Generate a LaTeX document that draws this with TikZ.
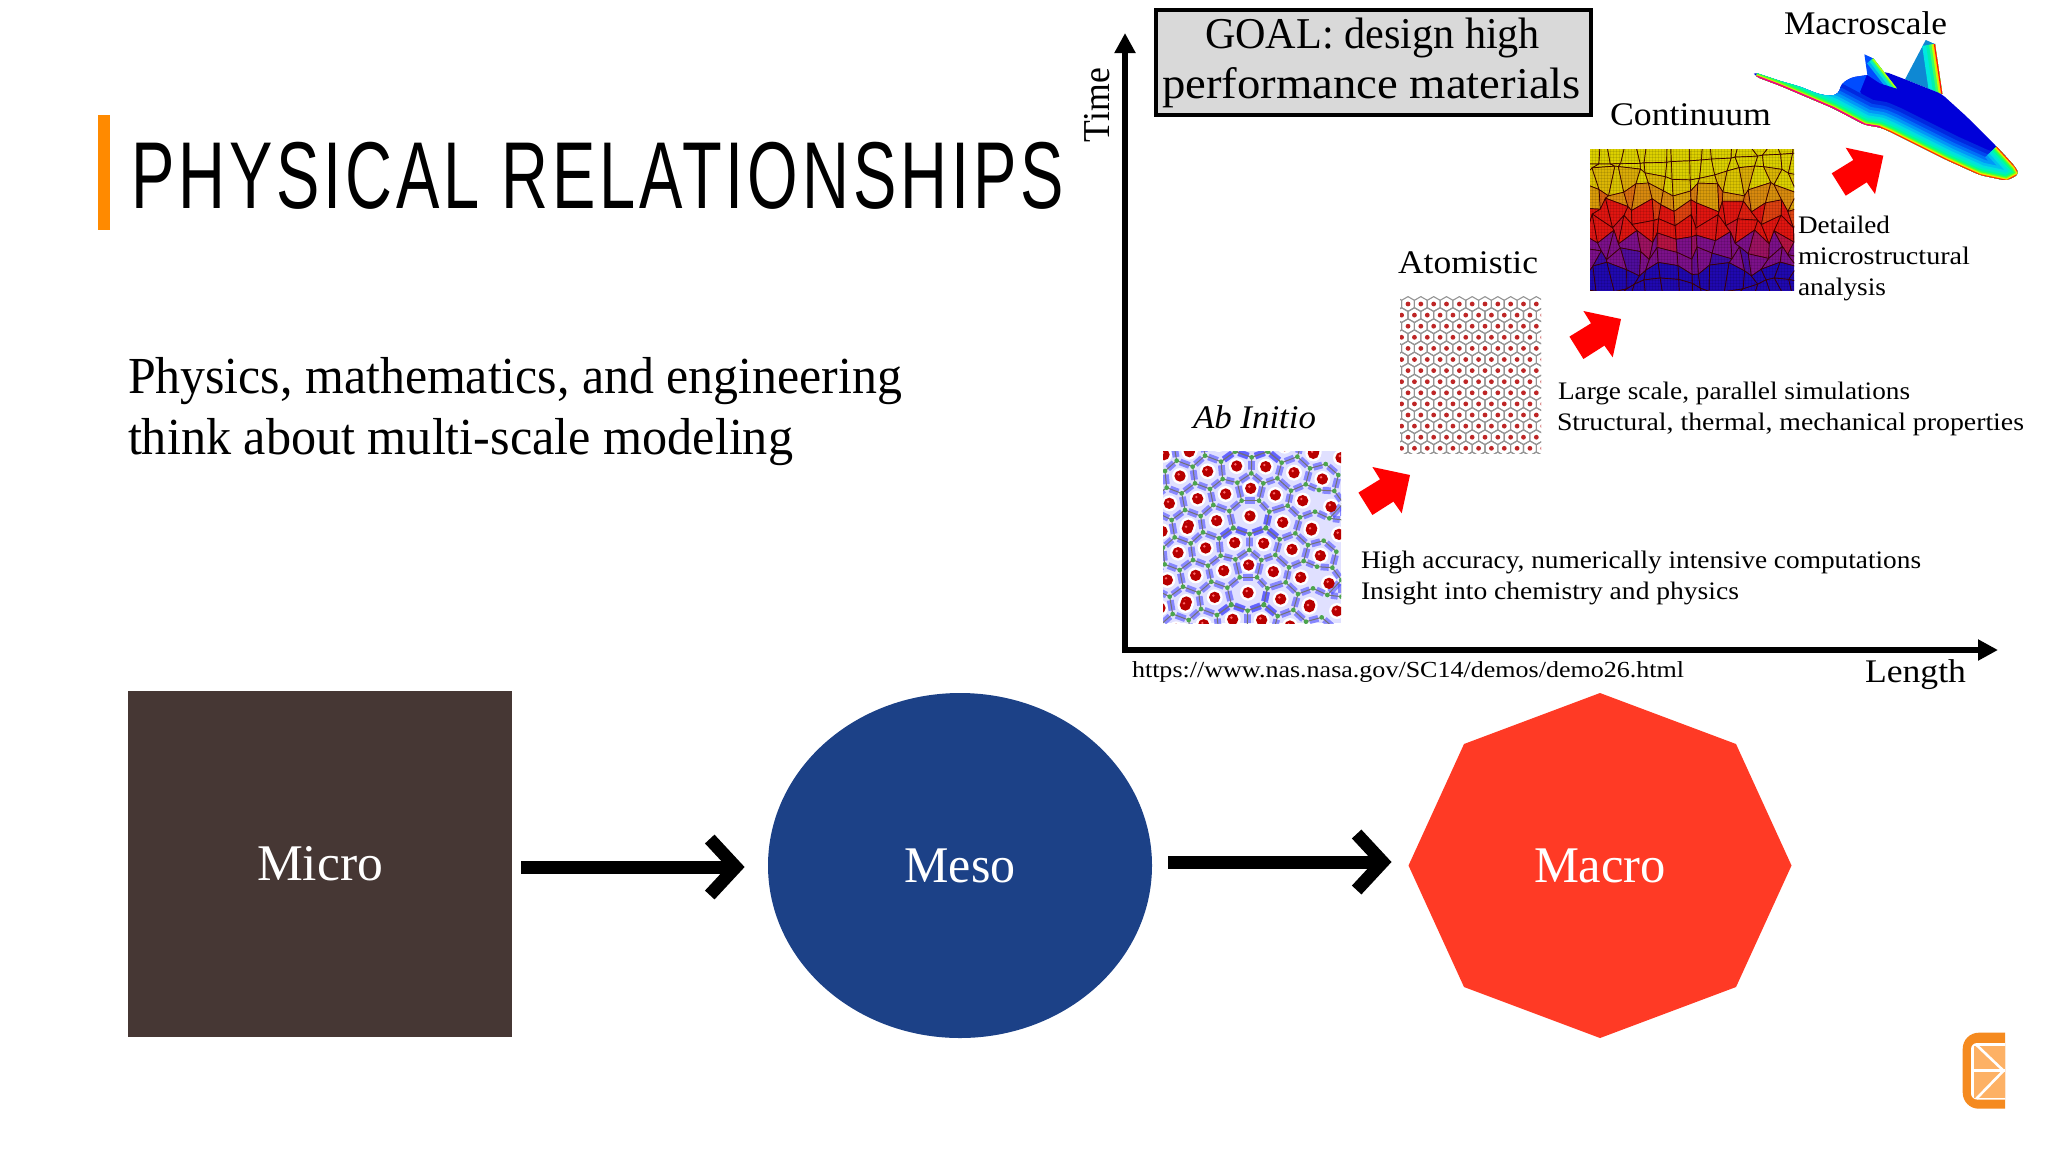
\documentclass[tikz,border=0pt]{standalone}
\usepackage{fontspec}
\usepackage{graphicx}
\setmainfont{Liberation Serif}
\newfontfamily\titlefont[LetterSpace=6]{Liberation Sans}
\usetikzlibrary{arrows.meta,calc,shapes.geometric}
\definecolor{barorange}{HTML}{FF8A00}
\definecolor{goalgray}{HTML}{D9D9D9}
\definecolor{microbrown}{HTML}{463734}
\definecolor{mesoblue}{HTML}{1C4187}
\definecolor{macrored}{HTML}{FF3A25}
\definecolor{logoorange}{HTML}{F58A1F}
\definecolor{logolight}{HTML}{FDB165}
\definecolor{cyel}{HTML}{DCD000}
\definecolor{cora}{HTML}{D88010}
\definecolor{cred}{HTML}{E01510}
\definecolor{cpur}{HTML}{7C108A}
\definecolor{cblu}{HTML}{2008B0}
\newcommand{\fitw}[2]{\resizebox{#1pt}{\height}{#2}}
\tikzset{
  lbl/.style={anchor=base west,inner sep=0pt,outer sep=0pt,text=black},
  fbig/.style={font=\fontsize{22}{22}\selectfont},
  fmid/.style={font=\fontsize{16.5}{16.5}\selectfont},
  fsmall/.style={font=\fontsize{12.6}{12.6}\selectfont},
  fshape/.style={font=\fontsize{25.7}{25.7}\selectfont,text=white,inner sep=0pt},
  axisline/.style={line width=3.2pt,-{Triangle[length=10pt,width=10pt]}},
  bigarrow/.style={line width=6.5pt,-{Straight Barb[length=13pt,width=28pt,line width=6.5pt]}},
  redarrow/.style={fill=red},
}
\newcommand{\redarrowat}[2]{\fill[redarrow,shift={(#1,#2)}] (-37.6,-8) -- (0,0) -- (-8.3,38.3) -- (-16.6,26.6) -- (-37.6,40) -- (-51.6,17.6) -- (-30,4.3) -- cycle;}
\newcommand{\greenlist}{50/62,135/47,98/80,183/65,225/35,275/52,323/35,365/68,412/50,497/72,535/105,15/93,20/143,65/160,105/130,150/147,188/117,232/128,274/100,310/130,352/115,393/152,437/133,450/85,477/150,523/153,245/182,297/182,75/210,122/228,160/195,208/213,328/215,383/197,420/232,465/215,508/235,35/240,220/263,318/263,-5/220,-15/170,550/190,550/240}
\newcommand{\bondlist}{50/62,135/47,98/80,183/65,225/35,275/52,323/35,365/68,412/50,497/72,535/105,15/93,20/143,65/160,105/130,150/147,188/117,232/128,274/100,310/130,352/115,393/152,437/133,450/85,477/150,523/153,245/182,297/182,75/210,122/228,160/195,208/213,328/215,383/197,420/232,465/215,508/235,35/240,220/263,318/263,-5/220,-15/170,550/190,550/240,44/292,129/277,92/310,177/295,269/282,317/265,359/298,406/280,491/302,444/315,9/323}
\newcommand{\redlist}{12/44,88/35,460/40,543/53,60/108,143/94,230/78,317/80,402/98,487/117,272/145,197/162,113/176,28/190,346/165,428/182,513/200,170/242,270/228,368/247,455/265,85/256}
\newcommand{\abbonds}{%
  \foreach \ax/\ay [count=\i] in \greenlist {
    \foreach \bx/\by [count=\j] in \bondlist {
      \ifnum\j>\i
        \pgfmathparse{veclen(\ax-\bx,\ay-\by)}
        \ifdim\pgfmathresult pt<62pt
          \draw[line width=3.4pt,color=blue!70!white,opacity=.6,shorten <=1.8pt,shorten >=1.8pt] (\ax,\ay) -- (\bx,\by);
          \draw[line width=.5pt,color=black!55] (\ax,\ay) -- (\bx,\by);
        \fi
      \fi
    }
  }
}
\newcommand{\abhalos}{%
  \foreach \ax/\ay in \redlist {
    \fill[white] (\ax,\ay) circle[radius=24];
  }
}
\newcommand{\abatoms}{%
  \foreach \ax/\ay in \greenlist {
    \fill[color=green!50!black!70!white] (\ax,\ay) circle[radius=7];
  }
  \foreach \ax/\ay in \redlist {
    \fill[color=red!72!black] (\ax,\ay) circle[radius=17];
    \fill[color=red!60!white] (\ax-4,\ay-5) circle[radius=4];
  }
}
\begin{document}
\begin{tikzpicture}[x=0.5pt,y=-0.5pt,
  declare function={jx(\i,\j)=5*sin(\i*137+\j*229+\i*\j*17); jy(\i,\j)=7*sin(\i*311+\j*97+\i*\j*41);clampp(\v)=100*max(0,min(1,\v));}]
\useasboundingbox (0,0) rectangle (2048,1152);
\fill[white] (0,0) rectangle (2048,1152);

% title block
\fill[barorange] (98,115) rectangle (110,230);
\node[lbl,font=\titlefont\fontsize{47.5}{47.5}\selectfont] (title) at (131,208) {\fitw{466.5}{PHYSICAL RELATIONSHIPS}};
\node[lbl,font=\fontsize{26}{26}\selectfont] (body1) at (128,393) {\fitw{387}{Physics, mathematics, and engineering}};
\node[lbl,font=\fontsize{26}{26}\selectfont] (body2) at (128,454) {\fitw{332.5}{think about multi-scale modeling}};

% axes
\coordinate (origin) at (1125,650);
\coordinate (timeend) at (1125,33);
\coordinate (lengthend) at (1998,650);
\draw[axisline] ($(origin)+(0,3)$) -- (timeend);
\draw[axisline] ($(origin)+(-3,0)$) -- (lengthend);
\node[lbl,rotate=90,font=\fontsize{19}{19}\selectfont] (timelabel) at (1109,142) {\fitw{37}{Time}};
\node[lbl,fmid] (lengthlabel) at (1865,682) {\fitw{50.5}{Length}};
\node[lbl,font=\fontsize{11.5}{11.5}\selectfont] (url) at (1132,677) {\fitw{276}{https://www.nas.nasa.gov/SC14/demos/demo26.html}};

% goal box
\draw[line width=1.9pt,fill=goalgray] (1156,10) rectangle (1591,115);
\node[lbl,fbig] (goal1) at (1205,48) {\fitw{167.5}{GOAL: design high}};
\node[lbl,fbig] (goal2) at (1162,98) {\fitw{209.5}{performance materials}};

% ab initio image
\begin{scope}
\clip (1163,451) rectangle (1341,623);
\fill[color=blue!12!white] (1163,451) rectangle (1341,623);
\begin{scope}[shift={(1160,440)},x=0.16667pt,y=-0.16667pt]
  \foreach \k in {-1,0,1,2} {
    \begin{scope}[shift={({-6*\k},{230*\k})}]
      \abhalos
    \end{scope}
  }
  \foreach \k in {-1,0,1,2} {
    \begin{scope}[shift={({-6*\k},{230*\k})}]
      \abbonds
    \end{scope}
  }
  \foreach \k in {-1,0,1,2} {
    \begin{scope}[shift={({-6*\k},{230*\k})}]
      \abatoms
    \end{scope}
  }
\end{scope}
\end{scope}
\node[lbl,fmid,font=\itshape\fontsize{16.5}{16.5}\selectfont] (abinitio) at (1193,428) {\fitw{61.5}{Ab Initio}};

% atomistic image
\begin{scope}
\clip (1400,296) rectangle (1541,453);
\foreach \r in {0,...,14} {
  \pgfmathsetmacro\off{mod(\r,2)==0 ? 1408 : 1401.6}
  \pgfmathsetmacro\yy{304+11.1*\r}
  \foreach \c in {-1,...,11} {
    \begin{scope}[shift={({\off+12.83*\c},\yy)}]
      \draw[line width=.55pt,color=black!42] (0,-7.4) -- (6.41,-3.7) -- (6.41,3.7) -- (0,7.4) -- (-6.41,3.7) -- (-6.41,-3.7) -- cycle;
      \fill[color=red!70!black!85!white] (0,0) circle[radius=2.4];
    \end{scope}
  }
}
\end{scope}
\node[lbl,fmid] (atomistic) at (1398,273) {\fitw{70}{Atomistic}};

% continuum image
\begin{scope}
\clip (1590,149) rectangle (1794,290);
\fill[cblu] (1590,149) rectangle (1794,290);
\begin{scope}[shift={(1584,141)}]
\foreach \i in {0,...,16} {
  \foreach \j in {0,...,9} {
    \pgfmathsetmacro\ax{\i*13+jx(\i,\j)}
    \pgfmathsetmacro\ay{\j*16+jy(\i,\j)}
    \pgfmathsetmacro\bx{(\i+1)*13+jx(\i+1,\j)}
    \pgfmathsetmacro\by{\j*16+jy(\i+1,\j)}
    \pgfmathsetmacro\cx{(\i+1)*13+jx(\i+1,\j+1)}
    \pgfmathsetmacro\cy{(\j+1)*16+jy(\i+1,\j+1)}
    \pgfmathsetmacro\dx{\i*13+jx(\i,\j+1)}
    \pgfmathsetmacro\dy{(\j+1)*16+jy(\i,\j+1)}
    \pgfmathsetmacro\tv{((\j+.5)*16-8)/141+.035*sin(\i*200+\j*90)+.02*sin(\i*40)}
    \pgfmathparse{\tv<.36 ? 0 : (\tv<.45 ? 1 : (\tv<.68 ? 2 : 3))}
    \pgfmathtruncatemacro\seg{\pgfmathresult}
    \ifcase\seg
      \pgfmathsetmacro\pp{clampp((\tv-.2)/.16)}\colorlet{cellc}{cora!\pp!cyel}
    \or
      \pgfmathsetmacro\pp{clampp((\tv-.36)/.09)}\colorlet{cellc}{cred!\pp!cora}
    \or
      \pgfmathsetmacro\pp{clampp((\tv-.6)/.08)}\colorlet{cellc}{cpur!\pp!cred}
    \else
      \pgfmathsetmacro\pp{clampp((\tv-.8)/.06)}\colorlet{cellc}{cblu!\pp!cpur}
    \fi
    \draw[fill=cellc,draw=black!75!red,line width=.35pt,line join=round] (\ax,\ay) -- (\bx,\by) -- (\cx,\cy) -- (\dx,\dy) -- cycle;
  }
}
\end{scope}
\foreach \gx in {1592,1595,...,1794} { \draw[black,opacity=.1,line width=.2pt] (\gx,149) -- (\gx,290); }
\foreach \gy in {151,154,...,290} { \draw[black,opacity=.1,line width=.2pt] (1590,\gy) -- (1794,\gy); }
\end{scope}
\node[lbl,fmid] (continuum) at (1610,125) {\fitw{80.5}{Continuum}};

% aircraft
\begin{scope}[shift={(1780,20)},x=0.16667pt,y=-0.16667pt,line join=round]
  % far fin
  \begin{scope}
    \clip (437,60) -- (465,72) -- (487,222) -- (430,200) -- (375,178) -- cycle;
    \fill[color=cyan!70!blue] (437,60) -- (465,72) -- (487,222) -- (430,200) -- (375,178) -- cycle;
    \foreach \w/\c in {13/00E8E0,9/00F0B0,6/40FF60,3.6/C0FF00,2.2/FFD000,1.2/FF1010} {
      \definecolor{tmpc}{HTML}{\c}
      \draw[line width=\w pt,color=tmpc] (465,72) -- (487,222);
    }
  \end{scope}
  % main body
  \begin{scope}
    \clip[rounded corners=2pt] (-81,156) -- (0,183) -- (60,200) -- (115,222) -- (150,228) -- (175,222) -- (185,190) -- (215,172) -- (262,165) -- (315,155) -- (375,178) -- (485,222) -- (560,290) -- (650,380) -- (705,440) -- (717,462) -- (680,482) -- (600,465) -- (500,420) -- (330,335) -- (300,322) -- (255,315) -- (160,265) -- (0,197) -- (-72,170) -- cycle;
    \fill[color=blue!85!black] (-90,150) rectangle (730,490);
    \fill[color=blue!70!cyan] (150,228) -- (175,222) -- (185,190) -- (215,172) -- (260,165) -- (240,215) -- (300,322) -- cycle;
    \foreach \d/\c in {78/0028E0,66/0048F0,56/0070F8,47/0098F8,38/00C0F0,30/00E0E0,23/00F0C0,17/00FF90,12/40FF40,8/A0FF00,5.5/FFE000,3/FF6000,1.5/FF1010} {
      \definecolor{tmpc}{HTML}{\c}
      \pgfmathsetmacro\w{\d/3}
      \draw[line width=\w pt,color=tmpc] (-72,170) -- (0,197) -- (160,265) -- (255,315) -- (300,322) -- (330,335) -- (500,420) -- (600,465) -- (680,482) -- (717,462) -- (705,440) -- (650,380);
    }
    \draw[line width=1.4pt,color=magenta] (-72,170) -- (0,197) -- (160,265) -- (255,315) -- (300,322);
  \end{scope}
  % near fin
  \begin{scope}
    \clip (253,103) -- (280,115) -- (350,205) -- (300,190) -- (262,165) -- cycle;
    \fill[color=blue!70!cyan] (253,103) -- (280,115) -- (350,205) -- (300,190) -- (262,165) -- cycle;
    \foreach \w/\c in {8/00B0F0,5/00E8D0,2.6/40FF60,1.2/C0FF00} {
      \definecolor{tmpc}{HTML}{\c}
      \draw[line width=\w pt,color=tmpc] (280,115) -- (350,205);
    }
  \end{scope}
\end{scope}
\node[lbl,fmid] (macroscale) at (1784,34) {\fitw{81.5}{Macroscale}};

% small texts
\node[lbl,fsmall] (d1) at (1798,233) {\fitw{46}{Detailed}};
\node[lbl,fsmall] (d2) at (1798,264) {\fitw{86}{microstructural}};
\node[lbl,fsmall] (d3) at (1798,295) {\fitw{44}{analysis}};
\node[lbl,fsmall] (l1) at (1558,399) {\fitw{176}{Large scale, parallel simulations}};
\node[lbl,fsmall] (l2) at (1557,430) {\fitw{233.5}{Structural, thermal, mechanical properties}};
\node[lbl,fsmall] (h1) at (1361,568) {\fitw{280}{High accuracy, numerically intensive computations}};
\node[lbl,fsmall] (h2) at (1361,599) {\fitw{189}{Insight into chemistry and physics}};

% red arrows
\redarrowat{1410}{475}
\redarrowat{1621}{319}
\redarrowat{1883.3}{155.7}

% bottom chain
\node[rectangle,fill=microbrown,minimum width=192pt,minimum height=173pt,fshape] (micro) at (320,864) {\fitw{63}{Micro}};
\node[ellipse,fill=mesoblue,minimum width=192pt,minimum height=172.5pt,fshape] (meso) at (960,865.5) {\fitw{55.5}{Meso}};
\fill[macrored] (1600,693) -- (1736,744) -- (1791.5,865.5) -- (1736,987) -- (1600,1038) -- (1464,987) -- (1408.5,865.5) -- (1464,744) -- cycle;
\node[fshape] (macro) at (1600,865.5) {\fitw{66}{Macro}};
\coordinate (macrowest) at (1408.5,862);
\draw[bigarrow] ($(micro.east)+(9,3)$) -- ($(meso.west)+(-23,1.5)$);
\draw[bigarrow] ($(meso.east)+(16,-3.5)$) -- ($(macrowest)+(-17,0)$);

% logo
\begin{scope}
\clip (1950,1020) rectangle (2005,1120);
\fill[logoorange,rounded corners=8pt] (1962.7,1032.7) rectangle (2030,1108.7);
\fill[white,rounded corners=3pt] (1971,1043) rectangle (2030,1099.5);
\fill[logolight] (1973.5,1046) rectangle (2030,1097.5);
\draw[white,line width=1.3pt] (1971,1070.7) -- (2005,1070.7);
\draw[white,line width=1.3pt] (1976.5,1045) -- (2003.5,1070.7) -- (1976.5,1098.5);
\end{scope}
\end{tikzpicture}
\end{document}
